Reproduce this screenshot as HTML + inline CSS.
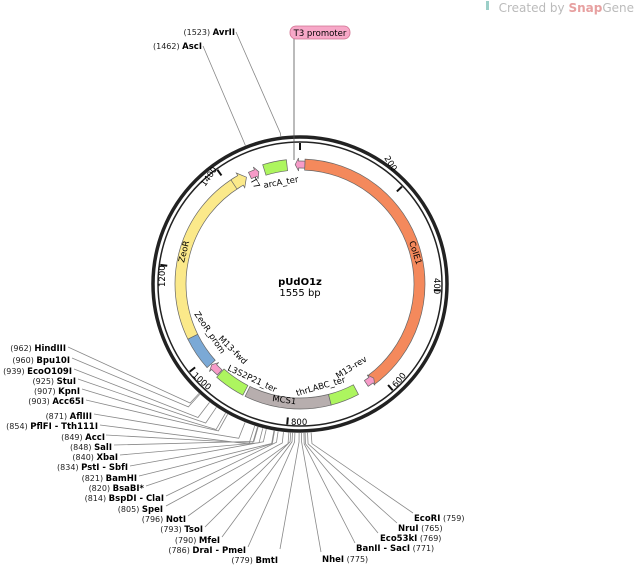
<!DOCTYPE html>
<html><head><meta charset="utf-8"><style>
html,body{margin:0;padding:0;background:#fff;}
svg{display:block;font-family:"DejaVu Sans","Liberation Sans",sans-serif;}
.n{font-size:8px;fill:#222;}
.b{font-size:8.5px;font-weight:bold;fill:#000;}
.f{font-size:8.5px;fill:#000;}
</style></head><body>
<svg id="s" width="636" height="565" viewBox="0 0 636 565" xmlns="http://www.w3.org/2000/svg">
<text x="634" y="12" text-anchor="end" style="font-size:12px;fill:#bbb">Created by <tspan style="fill:#e7a0a0;font-weight:bold">Snap</tspan><tspan style="fill:#bbb">Gene</tspan></text>
<rect x="486" y="1" width="3" height="9" fill="#9ccfc8"/>
<g id="lines" stroke="#888" stroke-width="0.8" fill="none"></g>
<circle cx="300" cy="284" r="147" fill="none" stroke="#222" stroke-width="3.5"/>
<circle cx="300" cy="284" r="142" fill="none" stroke="#222" stroke-width="1.5"/>
<g id="feat" stroke="#666" stroke-width="0.7"></g>
<g id="ticks" stroke="#111" stroke-width="2"></g>
<line x1="294" y1="38" x2="294" y2="160" stroke="#555" stroke-width="0.8"/>
<rect x="290" y="26" width="60" height="13" rx="6" fill="#f7a8c8" stroke="#d07090" stroke-width="0.8"/>
<text x="320" y="36" text-anchor="middle" class="f">T3 promoter</text>
<text x="300" y="285" text-anchor="middle" style="font-size:10px;font-weight:bold">pUdO1z</text>
<text x="300" y="296" text-anchor="middle" style="font-size:10px">1555 bp</text>
<text class="f" transform="translate(409,242) rotate(72)">ColE1</text>
<text class="f" transform="translate(184,263) rotate(-76)">ZeoR</text>
<text class="f" transform="translate(194,314) rotate(56)">ZeoR_prom</text>
<text class="f" transform="translate(218,339) rotate(45)">M13-fwd</text>
<text class="f" transform="translate(227,370) rotate(25)">L3S2P21_ter</text>
<text class="f" transform="translate(272,401) rotate(8)">MCS1</text>
<text class="f" transform="translate(297,396) rotate(-16)">thrLABC_ter</text>
<text class="f" transform="translate(338,379) rotate(-32)">M13-rev</text>
<text class="f" transform="translate(250,180) rotate(60)">T7</text>
<text class="f" transform="translate(264,188) rotate(-10)">arcA_ter</text>
<text class="f" transform="translate(384,158) rotate(58)">200</text>
<text class="f" transform="translate(434,278) rotate(90)">400</text>
<text class="f" transform="translate(396,388) rotate(-50)">600</text>
<text class="f" x="291" y="425">800</text>
<text class="f" transform="translate(192,376) rotate(42)">1000</text>
<text class="f" transform="translate(165,287) rotate(-90)">1200</text>
<text class="f" transform="translate(205,187) rotate(-55)">1400</text>
<g text-anchor="end">
<text x="66" y="351"><tspan class="n">(962)  </tspan><tspan class="b">HindIII</tspan></text>
<text x="70" y="363"><tspan class="n">(960)  </tspan><tspan class="b">Bpu10I</tspan></text>
<text x="72" y="374"><tspan class="n">(939)  </tspan><tspan class="b">EcoO109I</tspan></text>
<text x="76" y="384"><tspan class="n">(925)  </tspan><tspan class="b">StuI</tspan></text>
<text x="80" y="394"><tspan class="n">(907)  </tspan><tspan class="b">KpnI</tspan></text>
<text x="84" y="404"><tspan class="n">(903)  </tspan><tspan class="b">Acc65I</tspan></text>
<text x="92" y="419"><tspan class="n">(871)  </tspan><tspan class="b">AflIII</tspan></text>
<text x="98" y="429"><tspan class="n">(854)  </tspan><tspan class="b">PflFI - Tth111I</tspan></text>
<text x="105" y="440"><tspan class="n">(849)  </tspan><tspan class="b">AccI</tspan></text>
<text x="112" y="450"><tspan class="n">(848)  </tspan><tspan class="b">SalI</tspan></text>
<text x="118" y="460"><tspan class="n">(840)  </tspan><tspan class="b">XbaI</tspan></text>
<text x="128" y="470"><tspan class="n">(834)  </tspan><tspan class="b">PstI - SbfI</tspan></text>
<text x="137" y="481"><tspan class="n">(821)  </tspan><tspan class="b">BamHI</tspan></text>
<text x="144" y="491"><tspan class="n">(820)  </tspan><tspan class="b">BsaBI*</tspan></text>
<text x="164" y="501"><tspan class="n">(814)  </tspan><tspan class="b">BspDI - ClaI</tspan></text>
<text x="163" y="512"><tspan class="n">(805)  </tspan><tspan class="b">SpeI</tspan></text>
<text x="186" y="522"><tspan class="n">(796)  </tspan><tspan class="b">NotI</tspan></text>
<text x="203" y="532"><tspan class="n">(793)  </tspan><tspan class="b">TsoI</tspan></text>
<text x="220" y="543"><tspan class="n">(790)  </tspan><tspan class="b">MfeI</tspan></text>
<text x="246" y="553"><tspan class="n">(786)  </tspan><tspan class="b">DraI - PmeI</tspan></text>
<text x="278" y="563"><tspan class="n">(779)  </tspan><tspan class="b">BmtI</tspan></text>
<text x="235" y="35"><tspan class="n">(1523)  </tspan><tspan class="b">AvrII</tspan></text>
<text x="202" y="49"><tspan class="n">(1462)  </tspan><tspan class="b">AscI</tspan></text>
</g>
<text x="322" y="562"><tspan class="b">NheI</tspan><tspan class="n">  (775)</tspan></text>
<text x="356" y="551"><tspan class="b">BanII - SacI</tspan><tspan class="n">  (771)</tspan></text>
<text x="380" y="541"><tspan class="b">Eco53kI</tspan><tspan class="n">  (769)</tspan></text>
<text x="398" y="531"><tspan class="b">NruI</tspan><tspan class="n">  (765)</tspan></text>
<text x="414" y="521"><tspan class="b">EcoRI</tspan><tspan class="n">  (759)</tspan></text>
<script>
(function(){
var cx=300,cy=284,N=1555,NS="http://www.w3.org/2000/svg";
function pt(p,r){var a=p/N*2*Math.PI;return [cx+r*Math.sin(a),cy-r*Math.cos(a)];}
function el(g,tag,at){var e=document.createElementNS(NS,tag);for(var k in at)e.setAttribute(k,at[k]);document.getElementById(g).appendChild(e);return e;}
function arcD(p1,p2,r1,r2){var a=pt(p1,r2),b=pt(p2,r2),c=pt(p2,r1),d=pt(p1,r1);var lg=((p2-p1+N)%N)>N/2?1:0;
return "M"+a+" A"+r2+","+r2+" 0 "+lg+" 1 "+b+" L"+c+" A"+r1+","+r1+" 0 "+lg+" 0 "+d+"Z";}
function arrowCW(p1,p2,h,r1,r2,col){var rm=(r1+r2)/2,e=r2+3,i=r1-3;var b=p2-h;var a1=pt(p1,r2),a2=pt(b,r2),a3=pt(b,e),tip=pt(p2,rm),a4=pt(b,i),a5=pt(b,r1),a6=pt(p1,r1);
var lg=((b-p1+N)%N)>N/2?1:0;
el("feat","path",{d:"M"+a1+" A"+r2+","+r2+" 0 "+lg+" 1 "+a2+" L"+a3+" L"+tip+" L"+a4+" L"+a5+" A"+r1+","+r1+" 0 "+lg+" 0 "+a6+"Z",fill:col});}
function arrowCCW(p1,p2,h,r1,r2,col){var rm=(r1+r2)/2,e=r2+3,i=r1-3;var b=p1+h;var a1=pt(b,r2),a2=pt(p2,r2),a3=pt(p2,r1),a4=pt(b,r1),a5=pt(b,i),tip=pt(p1,rm),a6=pt(b,e);
var lg=((p2-b+N)%N)>N/2?1:0;
el("feat","path",{d:"M"+a1+" A"+r2+","+r2+" 0 "+lg+" 1 "+a2+" L"+a3+" A"+r1+","+r1+" 0 "+lg+" 0 "+a4+" L"+a5+" L"+tip+" L"+a6+"Z",fill:col});}
var r1=114,r2=125;
el("feat","path",{d:arcD(10,620,r1,r2),fill:"#f4895c"});
el("feat","path",{d:arcD(1053,1418,r1,r2),fill:"#fbe98a"});
arrowCW(1410,1440,14,r1,r2,"#fbe98a");
el("feat","path",{d:arcD(985,1053,r1,r2),fill:"#7ba9d6"});
el("feat","path",{d:arcD(715,890,r1,r2),fill:"#b7aeae"});
el("feat","path",{d:arcD(657,715,r1,r2),fill:"#adf55f"});
el("feat","path",{d:arcD(895,958,r1,r2),fill:"#adf55f"});
el("feat","path",{d:arcD(1480,1528,r1,r2),fill:"#adf55f"});
var pr1=116,pr2=123;
arrowCCW(1545,10,7,pr1,pr2,"#f79bc8");
arrowCCW(613,632,7,pr1,pr2,"#f79bc8");
arrowCW(960,983,7,pr1,pr2,"#f79bc8");
arrowCW(1448,1468,7,pr1,pr2,"#f79bc8");
[0,200,400,600,800,1000,1200,1400].forEach(function(p){var a=pt(p,134),b=pt(p,141);el("ticks","line",{x1:a[0],y1:a[1],x2:b[0],y2:b[1]});});
var E=[[962,68,347,162],[960,72,358,166],[939,74,369,168],[925,78,379,168],[907,82,389,168],[903,86,400,168],[871,94,414,166],[854,100,425,168],[849,106,435,166],[848,114,445,164],[840,120,455,164],[834,130,466,162],[821,139,476,162],[820,146,486,162],[814,166,496,160],[805,166,506,160],[796,188,516,160],[793,205,527,158],[790,222,537,158],[786,248,547,158],[779,280,549,158],
[775,321,552,158],[771,355,543,160],[769,378,533,160],[765,397,523,160],[759,413,513,160],[1523,236,32,152],[1462,203,46,152]];
E.forEach(function(e){var a=pt(e[0],149),b=pt(e[0],e[3]);el("lines","polyline",{points:a+" "+b+" "+e[1]+","+e[2]});});
})();
</script>
</svg>
</body></html>
